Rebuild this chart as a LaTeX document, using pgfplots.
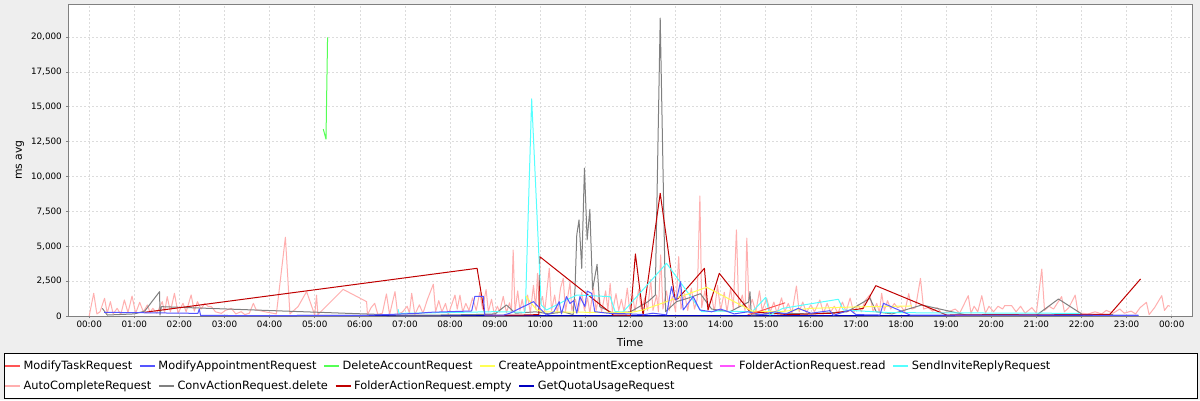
\documentclass[border=0pt]{standalone}
\usepackage{fontspec}
\setmainfont{DejaVu Sans}
\usepackage{pgfplots}
\pgfplotsset{compat=1.18}

\definecolor{cModTask}{HTML}{FF5555}
\definecolor{cModAppt}{HTML}{5555FF}
\definecolor{cDelAcc}{HTML}{55FF55}
\definecolor{cCreateExc}{HTML}{FFFF55}
\definecolor{cFolderRead}{HTML}{FF55FF}
\definecolor{cSendInv}{HTML}{55FFFF}
\definecolor{cAutoComp}{HTML}{FFAFAF}
\definecolor{cConvDel}{HTML}{808080}
\definecolor{cFolderEmpty}{HTML}{C00000}
\definecolor{cQuota}{HTML}{0000C0}
\definecolor{bgGray}{HTML}{EEEEEE}
\definecolor{gridGray}{HTML}{DCDCDC}

\tikzset{legtext/.style={anchor=west, inner sep=0pt, xshift=3pt, text=black,
  text height=0.72em, text depth=0.12em, font=\fontsize{11.4}{13}\selectfont}}

\begin{document}
\begin{tikzpicture}
\fill[bgGray] (0,0) rectangle (1200pt,400pt);
\useasboundingbox (0,0) rectangle (1200pt,400pt);

\begin{axis}[
  at={(68pt,84pt)}, anchor=south west,
  scale only axis, width=1124pt, height=312pt,
  xmin=-0.47, xmax=24.45, ymin=0, ymax=22370,
  axis background/.style={fill=white},
  axis line style={draw=black!50, line width=0.8pt},
  xtick={0,1,...,24},
  xticklabels={00:00,01:00,02:00,03:00,04:00,05:00,06:00,07:00,08:00,09:00,10:00,11:00,12:00,13:00,14:00,15:00,16:00,17:00,18:00,19:00,20:00,21:00,22:00,23:00,00:00},
  ytick={0,2500,...,20000},
  scaled y ticks=false,
  /pgf/number format/.cd, fixed, 1000 sep={,}, assume math mode=true, /pgfplots/.cd,
  tick pos=left, tick align=outside, major tick length=2pt,
  tick style={draw=black!50, line width=0.8pt},
  ticklabel style={font=\fontsize{8.8}{10}\selectfont, inner sep=0pt},
  xticklabel style={yshift=-3pt},
  yticklabel style={xshift=-4pt},
  grid=major,
  major grid style={draw=gridGray, dash pattern=on 2pt off 2pt, line width=0.6pt},
  xlabel={Time}, ylabel={ms avg},
  label style={font=\fontsize{10.8}{13}\selectfont},
  xlabel style={at={(axis description cs:0.5,-0.0833)}, anchor=center},
  ylabel style={at={(axis description cs:-0.0427,0.5)}, anchor=center},
  every axis plot/.append style={line width=1pt, line join=round, mark=none},
]

% AutoCompleteRequest
\addplot[cAutoComp] coordinates {
(0.00,0)(0.10,1630)(0.17,150)(0.24,300)(0.34,1270)(0.40,200)(0.47,1030)(0.53,150)
(0.62,550)(0.70,100)(0.78,1150)(0.86,250)(0.95,1430)(1.03,200)(1.12,980)(1.20,300)
(1.29,790)(1.35,250)(1.41,550)(1.50,200)(1.62,1030)(1.67,250)(1.73,1390)(1.80,300)
(1.89,1630)(1.97,200)(2.08,910)(2.15,300)(2.26,1510)(2.33,350)(2.40,1030)(2.48,500)
(2.56,910)(2.63,700)(2.71,670)(2.80,300)(2.93,190)(3.02,400)(3.15,550)(3.25,150)
(3.37,310)(3.45,100)(3.55,200)(3.64,910)(3.70,450)(3.90,300)(4.15,150)(4.35,5650)
(4.45,150)(4.63,670)(4.82,1750)(5.00,70)(5.04,1500)(5.07,100)(5.63,1910)(6.15,1030)
(6.17,80)(6.25,600)(6.33,910)(6.40,100)(6.50,200)(6.59,1580)(6.66,100)(6.78,1750)
(6.84,100)(6.95,300)(7.05,700)(7.10,200)(7.15,1630)(7.22,100)(7.32,800)(7.40,200)
(7.50,1200)(7.63,2280)(7.68,300)(7.75,1100)(7.82,300)(7.90,900)(7.96,100)(8.11,1500)
(8.16,500)(8.22,1500)(8.28,300)(8.35,900)(8.42,400)(8.50,1300)(8.58,400)(8.66,1700)
(8.72,500)(8.80,1900)(8.85,300)(8.92,1200)(8.98,150)(9.05,700)(9.10,300)(9.18,1400)
(9.25,250)(9.32,950)(9.36,300)(9.40,4730)(9.44,300)(9.50,1800)(9.55,400)(9.60,1200)
(9.65,300)(9.72,1500)(9.78,200)(9.85,2200)(9.90,500)(9.94,3060)(9.98,700)(10.05,1400)
(10.10,300)(10.20,3420)(10.25,400)(10.32,1500)(10.38,200)(10.45,2000)(10.51,2700)(10.56,300)
(10.66,2420)(10.70,400)(10.78,1200)(10.84,300)(10.92,1700)(10.98,400)(11.05,1300)(11.10,200)
(11.18,2000)(11.24,400)(11.30,1500)(11.36,300)(11.45,1800)(11.50,400)(11.55,2340)(11.60,300)
(11.68,1600)(11.74,400)(11.80,1200)(11.86,300)(11.93,2000)(11.98,500)(12.05,1500)(12.10,300)
(12.18,1900)(12.24,500)(12.32,1300)(12.38,400)(12.45,2600)(12.50,400)(12.58,1500)(12.62,300)
(12.67,4380)(12.72,500)(12.80,1800)(12.86,400)(12.93,1400)(13.00,300)(13.07,4260)(13.12,500)
(13.20,1600)(13.27,400)(13.35,2000)(13.42,500)(13.48,1200)(13.54,8610)(13.58,600)(13.65,1800)
(13.72,500)(13.80,1400)(13.86,300)(13.93,2200)(14.00,400)(14.08,1700)(14.14,300)(14.22,2000)
(14.28,500)(14.35,6170)(14.40,600)(14.48,1500)(14.54,400)(14.58,5580)(14.63,500)(14.70,1200)
(14.78,300)(14.86,1800)(14.92,400)(15.02,1270)(15.10,300)(15.18,1000)(15.25,200)(15.35,1300)
(15.42,300)(15.50,900)(15.58,200)(15.68,2150)(15.74,300)(15.82,1000)(15.90,250)(16.00,800)
(16.08,300)(16.20,1150)(16.28,200)(16.36,900)(16.44,300)(16.52,700)(16.60,200)(16.70,1000)
(16.78,300)(16.87,1290)(16.95,250)(17.05,800)(17.12,300)(17.20,1100)(17.31,1520)(17.38,300)
(17.46,900)(17.52,250)(17.57,1630)(17.63,400)(17.70,1100)(17.77,500)(17.85,900)(17.92,600)
(18.00,700)(18.08,300)(18.17,1600)(18.24,500)(18.32,600)(18.43,2700)(18.50,500)(18.60,600)
(18.70,350)(18.80,600)(18.90,200)(19.05,300)(19.20,500)(19.30,200)(19.49,1460)(19.55,200)
(19.62,700)(19.70,300)(19.79,1460)(19.87,200)(19.95,700)(20.05,300)(20.15,700)(20.25,500)
(20.30,750)(20.45,750)(20.55,300)(20.65,700)(20.75,200)(20.90,600)(21.00,200)(21.12,3370)
(21.18,400)(21.28,700)(21.38,500)(21.56,1390)(21.62,300)(21.72,600)(21.86,1500)(21.92,300)
(22.00,200)(22.15,150)(22.30,300)(22.45,150)(22.55,400)(22.70,200)(22.85,500)(22.95,200)
(23.10,350)(23.20,150)(23.30,600)(23.44,980)(23.50,100)(23.62,600)(23.78,1460)(23.84,400)
(23.92,750)(23.96,700)
};

% GetQuotaUsageRequest
\addplot[cQuota] coordinates {
(2.47,30)(6.00,40)(9.00,20)(12.00,30)(16.00,20)(20.00,40)(23.26,40)
};

% FolderActionRequest.read
\addplot[cFolderRead] coordinates {
(19.20,60)(20.50,80)(21.00,60)
};

% ConvActionRequest.delete
\addplot[cConvDel] coordinates {
(0.29,550)(0.40,70)(1.00,150)(1.23,350)(1.56,1745)(1.57,60)(1.60,670)(5.74,190)
(6.82,70)(7.50,60)(8.50,100)(9.00,150)(9.25,790)(9.45,200)(9.90,300)(10.20,150)
(10.50,300)(10.73,100)(10.77,1870)(10.81,5810)(10.86,6890)(10.92,3420)(10.98,10600)(11.04,5450)
(11.10,7650)(11.16,1870)(11.26,3710)(11.32,670)(11.62,200)(12.00,300)(12.39,1030)(12.55,1500)
(12.66,21360)(12.78,310)(13.02,1030)(13.30,1300)(13.55,1600)(13.80,500)(14.20,300)(14.62,1000)
(14.65,1745)(14.68,70)(15.30,200)(16.00,150)(16.80,300)(17.31,1270)(17.45,300)(17.80,150)
(18.46,790)(19.45,70)(20.00,40)(21.00,50)(21.49,1220)(22.04,70)(22.70,100)
};

% FolderActionRequest.empty
\addplot[cFolderEmpty] coordinates {
(1.23,265)(8.60,3420)(8.77,70)(9.00,50)(9.50,60)(9.97,100)(9.99,4255)(11.62,70)
(12.00,50)(12.11,4450)(12.28,30)(12.66,8800)(12.99,1150)(13.06,1270)(13.64,3420)(13.72,430)
(13.97,3060)(14.65,310)(15.50,100)(16.50,200)(17.16,550)(17.44,2175)(19.01,70)(20.20,100)
(21.00,80)(22.63,120)(23.31,2655)
};

% SendInviteReplyRequest
\addplot[cSendInv] coordinates {
(6.85,480)(6.87,190)(8.00,250)(9.00,310)(9.66,265)(9.68,1500)(9.81,15570)(10.02,790)
(10.14,430)(10.58,1150)(10.81,1500)(11.55,1390)(11.66,310)(11.84,300)(12.80,3780)(13.58,310)
(14.00,350)(14.70,300)(15.00,1340)(15.09,70)(15.38,550)(16.61,1200)(16.72,430)(17.75,240)
(21.96,190)
};

% CreateAppointmentExceptionRequest
\addplot[cCreateExc] coordinates {
(9.68,1435)(9.92,430)(10.10,300)(11.10,265)(12.00,250)(12.28,430)(13.69,2060)(14.70,350)
(15.30,300)(16.00,550)(17.00,650)(18.24,720)
};

% DeleteAccountRequest
\addplot[cDelAcc] coordinates {
(5.19,13400)(5.25,12680)(5.285,19970)
};

% ModifyAppointmentRequest
\addplot[cModAppt] coordinates {
(0.33,265)(2.41,190)(2.44,500)(2.47,40)(4.00,30)(6.00,30)(7.29,190)(7.55,265)
(8.48,360)(8.55,1410)(8.74,1410)(8.77,70)(9.18,60)(9.33,200)(9.85,1030)(9.99,550)
(10.14,70)(10.30,300)(10.42,1030)(10.47,150)(10.58,1390)(10.66,900)(10.74,1100)(10.81,200)
(10.88,1390)(10.99,680)(11.04,1790)(11.14,1630)(11.21,310)(11.50,200)(12.00,150)(12.30,100)
(12.50,200)(12.80,80)(12.91,2100)(12.96,1390)(13.02,1150)(13.11,2460)(13.17,430)(13.39,1390)
(13.54,430)(13.80,300)(14.00,500)(14.30,150)(14.60,300)(14.90,100)(15.20,300)(15.45,150)
(15.72,550)(16.00,200)(16.42,380)(16.50,50)(16.87,430)(17.00,100)(17.53,70)(17.61,910)
(18.20,70)(23.26,50)
};

% ModifyTaskRequest
\addplot[cModTask] coordinates {
(14.60,100)(14.72,190)(15.43,950)
};
\end{axis}

% legend
\draw[black, line width=0.8pt, fill=white] (4pt,1.7pt) rectangle (1197pt,47pt);
\begin{scope}[line width=1.2pt]
\draw[cModTask] (5pt,34pt) -- ++(15pt,0) node[legtext] (a1) {ModifyTaskRequest};
\draw[cModAppt] ([xshift=7pt]a1.east) -- ++(15pt,0) node[legtext] (a2) {ModifyAppointmentRequest};
\draw[cDelAcc] ([xshift=7pt]a2.east) -- ++(15pt,0) node[legtext] (a3) {DeleteAccountRequest};
\draw[cCreateExc] ([xshift=7pt]a3.east) -- ++(15pt,0) node[legtext] (a4) {CreateAppointmentExceptionRequest};
\draw[cFolderRead] ([xshift=7pt]a4.east) -- ++(15pt,0) node[legtext] (a5) {FolderActionRequest.read};
\draw[cSendInv] ([xshift=7pt]a5.east) -- ++(15pt,0) node[legtext] (a6) {SendInviteReplyRequest};
\draw[cAutoComp] (5pt,14pt) -- ++(15pt,0) node[legtext] (b1) {AutoCompleteRequest};
\draw[cConvDel] ([xshift=7pt]b1.east) -- ++(15pt,0) node[legtext] (b2) {ConvActionRequest.delete};
\draw[cFolderEmpty] ([xshift=7pt]b2.east) -- ++(15pt,0) node[legtext] (b3) {FolderActionRequest.empty};
\draw[cQuota] ([xshift=7pt]b3.east) -- ++(15pt,0) node[legtext] (b4) {GetQuotaUsageRequest};
\end{scope}
\end{tikzpicture}
\end{document}
